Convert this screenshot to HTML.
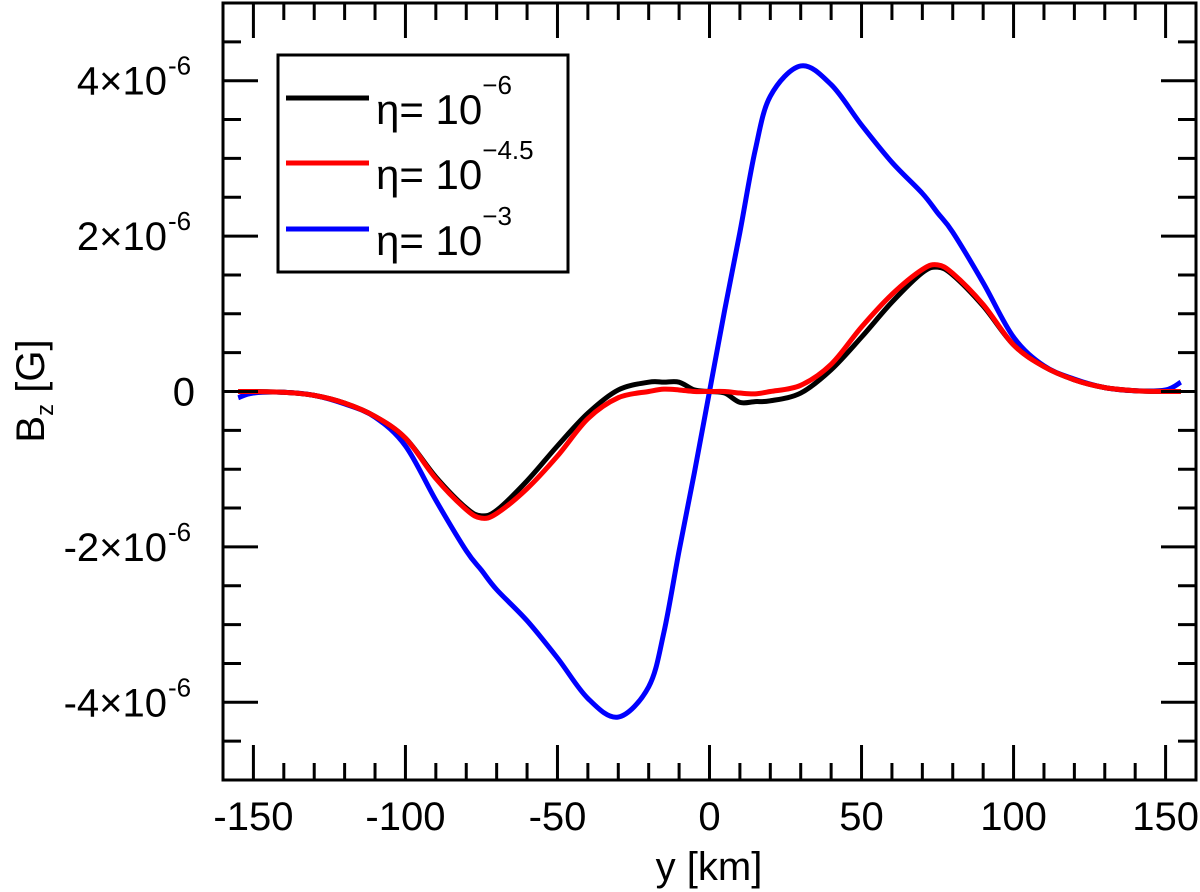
<!DOCTYPE html>
<html><head><meta charset="utf-8"><style>
body{margin:0;background:#fff}
svg{display:block;font-family:"Liberation Sans",Arial,sans-serif}
</style></head><body>
<svg id="chart" width="1200" height="892"></svg>
<script>
const xs=[-155,-150,-140,-130,-120,-110,-100,-90,-80,-75,-70,-60,-50,-40,-30,-20,-15,-10,-5,0,5,10,15,20,30,40,50,60,70,75,80,90,100,110,120,130,140,150,155];
const blackV=[0,0,-0.01,-0.05,-0.15,-0.32,-0.6,-1.1,-1.5,-1.6,-1.53,-1.15,-0.7,-0.28,0.02,0.12,0.12,0.12,0.02,0,-0.02,-0.14,-0.13,-0.12,-0.02,0.28,0.7,1.15,1.53,1.6,1.5,1.1,0.6,0.32,0.15,0.05,0.01,0,0];
const redV=[0,0,-0.01,-0.05,-0.15,-0.32,-0.6,-1.12,-1.52,-1.63,-1.57,-1.25,-0.83,-0.35,-0.08,0,0.03,0.02,0,0,0,-0.02,-0.03,0,0.08,0.35,0.83,1.25,1.57,1.63,1.52,1.12,0.6,0.32,0.15,0.05,0.01,0,0];
const blueV=[-0.08,-0.02,-0.01,-0.05,-0.16,-0.33,-0.7,-1.4,-2.05,-2.3,-2.55,-2.95,-3.43,-3.95,-4.19,-3.8,-3.1,-2.05,-1.05,0,1.05,2.05,3.1,3.8,4.19,3.95,3.43,2.95,2.55,2.3,2.05,1.4,0.7,0.33,0.16,0.05,0.01,0.02,0.12];
const xTicks=[-150,-100,-50,0,50,100,150];
const yTicks=[-4,-2,0,2,4];
const yLabels=["-4×10","-2×10","0","2×10","4×10"];
const L=223,R=1196,T=3,B=780;
const X=v=>L+(v+160)*(R-L)/320;
const Y=v=>T+(5-v)*(B-T)/10;
const svg=document.getElementById('chart');
const NS='http://www.w3.org/2000/svg';
function mk(tag,at,txt){const e=document.createElementNS(NS,tag);for(const k in at)e.setAttribute(k,at[k]);if(txt!==undefined)e.textContent=txt;svg.appendChild(e);return e;}
function path(vals,color,name){
  const p=xs.map((x,i)=>[X(x),Y(vals[i])]);
  let d='M'+p[0][0]+','+p[0][1];
  for(let i=0;i<p.length-1;i++){
    const p0=p[Math.max(0,i-1)],p1=p[i],p2=p[i+1],p3=p[Math.min(p.length-1,i+2)];
    const c1=[p1[0]+(p2[0]-p0[0])/6,p1[1]+(p2[1]-p0[1])/6];
    const c2=[p2[0]-(p3[0]-p1[0])/6,p2[1]-(p3[1]-p1[1])/6];
    d+=`C${c1[0]},${c1[1]} ${c2[0]},${c2[1]} ${p2[0]},${p2[1]}`;
  }
  const e=mk('path',{d:d,fill:'none',stroke:color,'stroke-width':5,'stroke-linejoin':'round'});
  
  
}
path(blueV,'#0000ff','series-eta-1e-3');
path(blackV,'#000','series-eta-1e-6');
path(redV,'#ff0000','series-eta-1e-4.5');
const fr=mk('rect',{x:L,y:T,width:R-L,height:B-T,fill:'none',stroke:'#000','stroke-width':3});


for(let v=-160;v<=160;v+=10){
  const maj=v%50===0,len=maj?35:17,x=X(v);
  mk('line',{x1:x,y1:B,x2:x,y2:B-len,stroke:'#000','stroke-width':3});
  mk('line',{x1:x,y1:T,x2:x,y2:T+len,stroke:'#000','stroke-width':3});
}
xTicks.forEach(v=>{
  const t=mk('text',{x:X(v),y:830,'font-size':40,'text-anchor':'middle'},String(v));
  
  
});
for(let v=-5;v<=5.001;v+=0.5){
  const maj=Math.abs(v%2)<1e-6,len=maj?35:18,y=Y(v);
  mk('line',{x1:L,y1:y,x2:L+len,y2:y,stroke:'#000','stroke-width':3});
  mk('line',{x1:R,y1:y,x2:R-len,y2:y,stroke:'#000','stroke-width':3});
}
yTicks.forEach((v,i)=>{
  const t=mk('text',{x:v===0?195:167,y:Y(v)+14,'font-size':40,'text-anchor':'end'},yLabels[i]);
  
  
  if(v!==0){
    const s=mk('text',{x:168,y:Y(v)-6,'font-size':26,'text-anchor':'start'},'-6');
    
    
  }
});
const xt=mk('text',{x:709,y:880,'font-size':40,'text-anchor':'middle'},'y [km]');


const yt=mk('text',{x:0,y:0,'font-size':40,'text-anchor':'middle',transform:'translate(44,391) rotate(-90)'});


yt.innerHTML='B<tspan font-size="24" dy="9">z</tspan><tspan dy="-9"> [G]</tspan>';
const lg=mk('rect',{x:278,y:55,width:290,height:217,fill:'#fff',stroke:'#000','stroke-width':3});


[['#000','-6',98],['#ff0000','-4.5',163],['#0000ff','-3',229]].forEach(([c,e,y])=>{
  const l=mk('line',{x1:286,y1:y,x2:369,y2:y,stroke:c,'stroke-width':5});
  
  
  const t=mk('text',{x:376,y:y+26,'font-size':42});
  
  
  t.innerHTML='η= 10<tspan font-size="26" dy="-30">−'+e.slice(1)+'</tspan>';
});
</script>
</body></html>
